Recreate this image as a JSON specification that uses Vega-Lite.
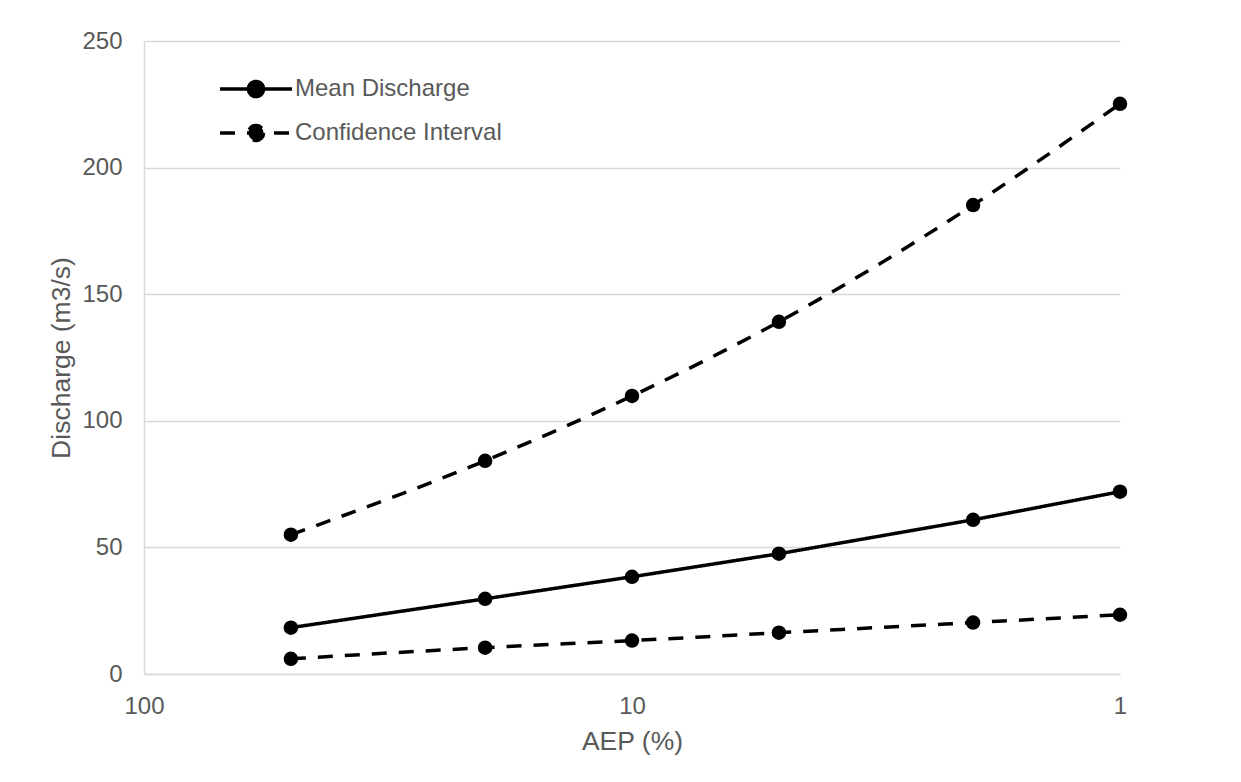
{
  "$schema": "https://vega.github.io/schema/vega-lite/v6.json",
  "width": 976,
  "height": 633,
  "autosize": {"type": "none"},
  "padding": {"left": 144, "top": 41, "right": 121, "bottom": 108},
  "background": "white",
  "config": {
    "view": {"stroke": null},
    "font": "Liberation Sans",
    "axis": {
      "labelFont": "Liberation Sans",
      "titleFont": "Liberation Sans",
      "labelColor": "#595959",
      "titleColor": "#595959",
      "labelFontSize": 24,
      "titleFontSize": 26.5,
      "titleFontWeight": "normal",
      "ticks": false,
      "domainColor": "#d9d9d9",
      "domainWidth": 1.5,
      "gridColor": "#d9d9d9",
      "gridWidth": 1.5
    },
    "legend": {
      "labelFont": "Liberation Sans",
      "labelFontSize": 24,
      "labelColor": "#595959",
      "labelLimit": 400
    }
  },
  "data": {
    "values": [
      {"aep": 50, "series": "Mean", "type": "Mean Discharge", "q": 18.3},
      {"aep": 20, "series": "Mean", "type": "Mean Discharge", "q": 29.7},
      {"aep": 10, "series": "Mean", "type": "Mean Discharge", "q": 38.4},
      {"aep": 5, "series": "Mean", "type": "Mean Discharge", "q": 47.5},
      {"aep": 2, "series": "Mean", "type": "Mean Discharge", "q": 60.9},
      {"aep": 1, "series": "Mean", "type": "Mean Discharge", "q": 72.0},
      {"aep": 50, "series": "Upper", "type": "Confidence Interval", "q": 55.0},
      {"aep": 20, "series": "Upper", "type": "Confidence Interval", "q": 84.2},
      {"aep": 10, "series": "Upper", "type": "Confidence Interval", "q": 109.8},
      {"aep": 5, "series": "Upper", "type": "Confidence Interval", "q": 139.1},
      {"aep": 2, "series": "Upper", "type": "Confidence Interval", "q": 185.2},
      {"aep": 1, "series": "Upper", "type": "Confidence Interval", "q": 225.2},
      {"aep": 50, "series": "Lower", "type": "Confidence Interval", "q": 6.0},
      {"aep": 20, "series": "Lower", "type": "Confidence Interval", "q": 10.4},
      {"aep": 10, "series": "Lower", "type": "Confidence Interval", "q": 13.2},
      {"aep": 5, "series": "Lower", "type": "Confidence Interval", "q": 16.3},
      {"aep": 2, "series": "Lower", "type": "Confidence Interval", "q": 20.3},
      {"aep": 1, "series": "Lower", "type": "Confidence Interval", "q": 23.4}
    ]
  },
  "encoding": {
    "x": {
      "field": "aep",
      "type": "quantitative",
      "title": "AEP (%)",
      "scale": {"type": "log", "domain": [1, 100], "reverse": true, "nice": false},
      "axis": {"values": [1, 10, 100], "format": "d", "grid": false, "labelPadding": 20, "titlePadding": 10, "labelFlush": false, "labelOverlap": false}
    },
    "y": {
      "field": "q",
      "type": "quantitative",
      "title": "Discharge (m3/s)",
      "scale": {"domain": [0, 250], "nice": false},
      "axis": {"values": [0, 50, 100, 150, 200, 250], "labelPadding": 22, "titlePadding": 6, "domain": true}
    }
  },
  "layer": [
    {
      "transform": [{"filter": "datum.series === 'Mean'"}],
      "mark": {"type": "line", "color": "black", "strokeWidth": 3.5},
      "encoding": {
        "strokeDash": {
          "field": "type",
          "type": "nominal",
          "scale": {"domain": ["Mean Discharge", "Confidence Interval"], "range": [[1, 0], [15, 12]]},
          "legend": {
            "title": null,
            "orient": "none",
            "legendX": 98,
            "legendY": 34,
            "padding": 0,
            "symbolType": "M-3,0H3M0.63,0A0.63,0.63,0,1,1,-0.63,0A0.63,0.63,0,1,1,0.63,0Z",
            "symbolSize": 576,
            "symbolStrokeWidth": 3.5,
            "symbolFillColor": "black",
            "symbolStrokeColor": "black",
            "labelOffset": 25,
            "rowPadding": 14,
            "labelBaseline": "middle",
            "encode": {
              "symbols": {
                "update": {
                  "fill": {"value": "black"},
                  "stroke": {"value": "black"},
                  "opacity": {"value": 1},
                  "strokeDash": {"signal": "datum.value === 'Mean Discharge' ? [1, 0] : [24, 24]"}
                }
              }
            }
          }
        }
      }
    },
    {
      "transform": [{"filter": "datum.series !== 'Mean'"}],
      "mark": {"type": "line", "color": "black", "strokeWidth": 3.5, "interpolate": "monotone"},
      "encoding": {
        "detail": {"field": "series", "type": "nominal"},
        "strokeDash": {"field": "type", "type": "nominal"}
      }
    },
    {
      "mark": {"type": "point", "shape": "circle", "filled": true, "color": "black", "opacity": 1, "size": 210, "strokeWidth": 0},
      "encoding": {
        "detail": {"field": "series", "type": "nominal"}
      }
    }
  ]
}
